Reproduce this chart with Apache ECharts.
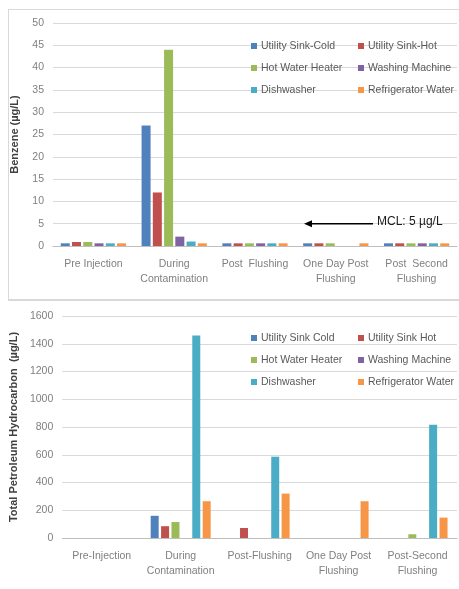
<!DOCTYPE html>
<html>
<head>
<meta charset="utf-8">
<script src="https://cdn.jsdelivr.net/npm/echarts@6/dist/echarts.min.js"></script>
<style>
  html, body { margin: 0; padding: 0; background: #fff; }
  #chart { width: 459px; height: 589px; }
</style>
</head>
<body>
<div id="chart"></div>
<script>
// categories
var benzeneCategories = ["Pre Injection", "During\nContamination", "Post  Flushing", "One Day Post\nFlushing", "Post  Second\nFlushing"];
var tphCategories = ["Pre-Injection", "During\nContamination", "Post-Flushing", "One Day Post\nFlushing", "Post-Second\nFlushing"];

// series names
var benzeneNames = ["Utility Sink-Cold", "Utility Sink-Hot", "Hot Water Heater", "Washing Machine", "Dishwasher", "Refrigerator Water"];
var tphNames = ["Utility Sink Cold", "Utility Sink Hot", "Hot Water Heater", "Washing Machine", "Dishwasher", "Refrigerator Water"];

// benzene (µg/L)
var benzeneSinkCold = [0.6, 27, 0.6, 0.6, 0.6];
var benzeneSinkHot = [0.9, 12, 0.6, 0.6, 0.6];
var benzeneHeater = [0.9, 44, 0.6, 0.6, 0.6];
var benzeneWasher = [0.6, 2.1, 0.6, null, 0.6];
var benzeneDishwasher = [0.6, 1, 0.6, null, 0.6];
var benzeneFridge = [0.6, 0.6, 0.6, 0.6, 0.6];

// total petroleum hydrocarbon (µg/L)
var tphSinkCold = [null, 160, null, null, null];
var tphSinkHot = [null, 85, 72, null, null];
var tphHeater = [null, 115, null, null, 27];
var tphWasher = [null, null, null, null, null];
var tphDishwasher = [null, 1460, 586, null, 817];
var tphFridge = [null, 265, 320, 265, 147];

var mclValue = 5;

var colors = ["#4F81BD", "#C0504D", "#9BBB59", "#8064A2", "#4BACC6", "#F79646"];
var fontFamily = "'Liberation Sans', Arial, sans-serif";

var benzeneData = [benzeneSinkCold, benzeneSinkHot, benzeneHeater, benzeneWasher, benzeneDishwasher, benzeneFridge];
var tphData = [tphSinkCold, tphSinkHot, tphHeater, tphWasher, tphDishwasher, tphFridge];

var series = [];
benzeneNames.forEach(function (name, i) {
  series.push({
    name: name,
    type: "bar",
    xAxisIndex: 0,
    yAxisIndex: 0,
    data: benzeneData[i],
    itemStyle: { color: colors[i] },
    barWidth: 9,
    barGap: "25%",
  });
});
tphNames.forEach(function (name, i) {
  series.push({
    name: name,
    type: "bar",
    xAxisIndex: 1,
    yAxisIndex: 1,
    data: tphData[i],
    itemStyle: { color: colors[i] },
    barWidth: 8,
    barGap: "30%",
  });
});

function legendCol(names, left, top) {
  return {
    orient: "vertical",
    left: left,
    top: top,
    data: names,
    itemWidth: 6,
    itemHeight: 6,
    itemGap: 10,
    icon: "rect",
    selectedMode: false,
    textStyle: { fontFamily: fontFamily, fontSize: 10.5, color: "#595959", lineHeight: 12, padding: [0, 0, 0, -1] },
  };
}

function xAxisOpt(idx, cats) {
  return {
    type: "category",
    gridIndex: idx,
    data: cats,
    axisTick: { show: false },
    axisLine: { lineStyle: { color: "#bfbfbf" } },
    axisLabel: { interval: 0, margin: 11, fontFamily: fontFamily, fontSize: 10.5, color: "#808080", lineHeight: 15 },
  };
}

function yAxisOpt(idx, name, max, interval, gap) {
  return {
    type: "value",
    gridIndex: idx,
    min: 0,
    max: max,
    interval: interval,
    name: name,
    nameLocation: "middle",
    nameGap: gap,
    nameTextStyle: { fontFamily: fontFamily, fontSize: 11, fontWeight: "bold", color: "#404040" },
    axisLine: { show: false },
    axisTick: { show: false },
    axisLabel: {
      margin: 9, fontFamily: fontFamily, fontSize: 10.5, color: "#808080",
      formatter: function (v) { return String(v); },
    },
    splitLine: { lineStyle: { color: "#d9d9d9" } },
  };
}

var option = {
  animation: false,
  grid: [
    { left: 53, right: 2, top: 23, height: 223 },
    { left: 59, right: 2, top: 316, height: 222 },
  ],
  legend: [
    legendCol([benzeneNames[0], benzeneNames[2], benzeneNames[4]], 246, 35),
    legendCol([benzeneNames[1], benzeneNames[3], benzeneNames[5]], 353, 35),
    legendCol([tphNames[0], tphNames[2], tphNames[4]], 246, 327),
    legendCol([tphNames[1], tphNames[3], tphNames[5]], 353, 327),
  ],
  xAxis: [xAxisOpt(0, benzeneCategories), xAxisOpt(1, tphCategories)],
  yAxis: [
    yAxisOpt(0, "Benzene (µg/L)", 50, 5, 33),
    yAxisOpt(1, "Total Petroleum Hydrocarbon  (µg/L)", 1600, 200, 39),
  ],
  series: series,
};

var chart = echarts.init(document.getElementById("chart"), null, { renderer: "canvas" });
chart.setOption(option);

// frame + MCL annotation
var mclY = chart.convertToPixel({ yAxisIndex: 0 }, mclValue);
chart.setOption({
  graphic: [
    { type: "line", shape: { x1: 8, y1: 9.5, x2: 459, y2: 9.5 }, style: { stroke: "#d9d9d9", lineWidth: 1 } },
    { type: "line", shape: { x1: 8.5, y1: 9, x2: 8.5, y2: 300 }, style: { stroke: "#d9d9d9", lineWidth: 1 } },
    { type: "line", shape: { x1: 8, y1: 300, x2: 459, y2: 300 }, style: { stroke: "#d9d9d9", lineWidth: 2 } },
    { type: "line", shape: { x1: 310, y1: mclY, x2: 373, y2: mclY }, style: { stroke: "#000", lineWidth: 1.5 } },
    { type: "polygon", shape: { points: [[304, mclY], [312, mclY - 3.5], [312, mclY + 3.5]] }, style: { fill: "#000" } },
    {
      type: "text", left: 377, top: mclY - 8,
      style: { text: "MCL: 5 µg/L", fontFamily: fontFamily, fontSize: 12, fill: "#1a1a1a" },
    },
  ],
});
</script>
</body>
</html>
